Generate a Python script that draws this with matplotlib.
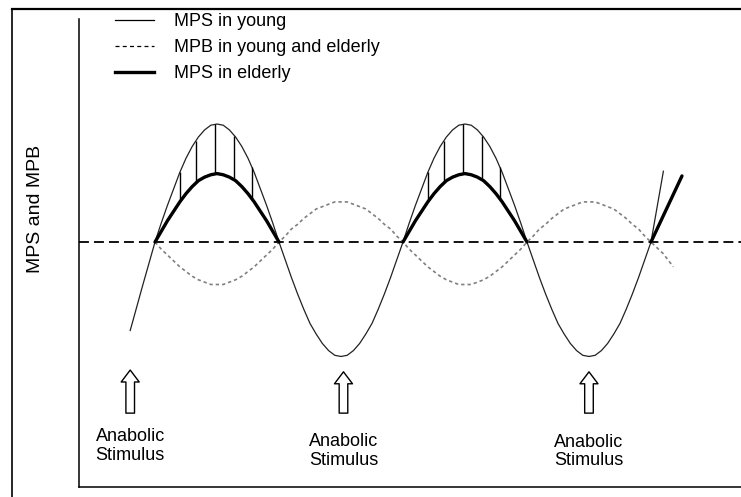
import numpy as np
import matplotlib
matplotlib.use('Agg')
import matplotlib.pyplot as plt
from matplotlib.lines import Line2D
from matplotlib.patches import FancyArrowPatch, ArrowStyle

plt.rcParams['font.family'] = ['Liberation Sans', 'DejaVu Sans']

# time in units of half a cycle, response relative to baseline (young peak = 1)
half_x = [0.0, 0.05, 0.1, 0.15, 0.2, 0.25, 0.3, 0.35, 0.4, 0.45, 0.5,
          0.55, 0.6, 0.65, 0.7, 0.75, 0.8, 0.85, 0.9, 0.95, 1.0]

# values read along one half cycle (rising half, then mirrored)
young_up = [0.0, 0.16, 0.31, 0.45, 0.59, 0.71, 0.81, 0.89, 0.95, 0.99, 1.0]
young_down = [0.0, -0.15, -0.30, -0.44, -0.57, -0.69, -0.78, -0.86, -0.92, -0.96, -0.97]
elderly_up = [0.0, 0.09, 0.18, 0.26, 0.34, 0.41, 0.47, 0.52, 0.55, 0.57, 0.58]
mpb_down = [0.0, -0.06, -0.11, -0.16, -0.21, -0.25, -0.29, -0.32, -0.34, -0.36, -0.36]
mpb_up = [0.0, 0.05, 0.11, 0.15, 0.20, 0.24, 0.28, 0.30, 0.32, 0.34, 0.34]

young_start_x = [-0.2, -0.1]
young_start_y = [-0.75, -0.37]
young_end_x = [4.05, 4.1]
young_end_y = [0.30, 0.60]
elderly_tail_x = [4.0, 4.25]
elderly_tail_y = [0.0, 0.56]
mpb_end_x = [4.1, 4.18]
mpb_end_y = [-0.10, -0.21]

hatch_x = [0.2, 0.33, 0.48, 0.64, 0.78, 2.2, 2.33, 2.48, 2.64, 2.78]

stimulus_x = [-0.2, 1.52, 3.5]
stimulus_tip = [-1.085, -1.10, -1.10]
stimulus_base = -1.45
stimulus_label_y = [-1.725, -1.767, -1.775]
stimulus_label = 'Anabolic\nStimulus'

legend_labels = ['MPS in young', 'MPB in young and elderly', 'MPS in elderly']


def hump(vals):
    return vals + vals[-2::-1]


young_cycle = hump(young_up)[:-1] + hump(young_down)[:-1]
mpb_cycle = hump(mpb_down)[:-1] + hump(mpb_up)[:-1]
cycle_x = half_x[:-1] + [x + 1 for x in half_x[:-1]]
wave_x = cycle_x + [x + 2 for x in cycle_x] + [4.0]

young_x = young_start_x + wave_x + young_end_x
young_y = young_start_y + young_cycle * 2 + [0.0] + young_end_y
mpb_x = wave_x + mpb_end_x
mpb_y = mpb_cycle * 2 + [0.0] + mpb_end_y
elderly_y = hump(elderly_up)
elderly_x1 = half_x
elderly_x2 = [x + 2 for x in half_x]

fig = plt.figure(figsize=(7.41, 4.97), dpi=100)
ax = fig.add_axes([79 / 741, 10 / 497, 662 / 741, 468 / 497])
ax.set_xlim(-0.613, 4.726)
ax.set_ylim(-2.076, 1.89)

ax.axhline(0, color='black', lw=1.3, linestyle=(0, (5.5, 2.8)))

ax.plot(young_x, young_y, color='#222222', lw=0.9)
ax.plot(mpb_x, mpb_y, color='#808080', lw=1.2, linestyle=(0, (2.0, 1.8)))
ax.plot(elderly_x1, elderly_y, color='black', lw=2.4, solid_capstyle='round')
ax.plot(elderly_x2, elderly_y, color='black', lw=2.4, solid_capstyle='round')
ax.plot(elderly_tail_x, elderly_tail_y, color='black', lw=2.4, solid_capstyle='round')

# vertical hatching between young and elderly
ex = elderly_x1 + elderly_x2
ey = elderly_y + elderly_y
lows = [np.interp(x, ex, ey) for x in hatch_x]
highs = [np.interp(x, young_x, young_y) for x in hatch_x]
ax.vlines(hatch_x, lows, highs, color='black', lw=1.0)

style = ArrowStyle.Simple(head_length=8.6, head_width=13, tail_width=6.2)
for x, tip, ly in zip(stimulus_x, stimulus_tip, stimulus_label_y):
    arrow = FancyArrowPatch((x, stimulus_base), (x, tip), arrowstyle=style,
                            mutation_scale=1, facecolor='white',
                            edgecolor='black', lw=1.0, shrinkA=0, shrinkB=0)
    ax.add_patch(arrow)
    ax.text(x, ly, stimulus_label, ha='center', va='center', fontsize=13,
            linespacing=1.15)

for side in ['top', 'right']:
    ax.spines[side].set_visible(False)
for side in ['left', 'bottom']:
    ax.spines[side].set_linewidth(1.1)
ax.set_xticks([])
ax.set_yticks([])

handles = [Line2D([], [], color='black', lw=0.9),
           Line2D([], [], color='black', lw=0.9, linestyle=(0, (3.2, 2.6))),
           Line2D([], [], color='black', lw=2.4)]
ax.legend(handles, legend_labels, loc='upper left',
          bbox_to_anchor=(115 / 741, 1 - 13 / 497), bbox_transform=fig.transFigure,
          frameon=False, fontsize=13, handlelength=2.15, handletextpad=1.1,
          labelspacing=0.5, borderpad=0, borderaxespad=0)

fig.text(35 / 741, 1 - 209 / 497, 'MPS and MPB', rotation=90, ha='center',
         va='center', fontsize=14)

# outer frame (left and top edges visible)
fig.add_artist(Line2D([12 / 741, 12 / 741], [0, 1 - 9 / 497], color='black',
                      lw=1.2, transform=fig.transFigure))
fig.add_artist(Line2D([12 / 741, 1], [1 - 9 / 497, 1 - 9 / 497], color='black',
                      lw=1.6, transform=fig.transFigure))

fig.savefig('out.png', dpi=100)
